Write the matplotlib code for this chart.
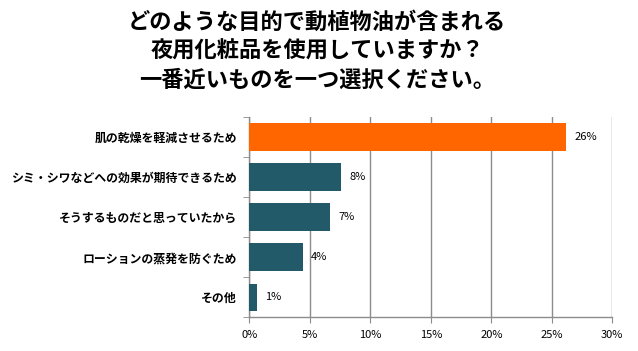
import matplotlib
matplotlib.use("Agg")
import matplotlib.pyplot as plt
import numpy as np

plt.rcParams['font.family'] = ['Noto Sans CJK JP', 'DejaVu Sans']

TITULO = ["どのような目的で動植物油が含まれる",
          "夜用化粧品を使用していますか？",
          "一番近いものを一つ選択ください。"]
CATEGORIAS = ["肌の乾燥を軽減させるため",
              "シミ・シワなどへの効果が期待できるため",
              "そうするものだと思っていたから",
              "ローションの蒸発を防ぐため",
              "その他"]
VALORES = [26.2, 7.6, 6.7, 4.4, 0.65]
ETIQUETAS = ["26%", "8%", "7%", "4%", "1%"]
XTICKS = [0, 5, 10, 15, 20, 25, 30]
XTICKLABELS = ["0%", "5%", "10%", "15%", "20%", "25%", "30%"]

COLORES = ["#FF6600"] + ["#235A69"] * 4
GRIS = "#8C8C8C"

fig = plt.figure(figsize=(6.38, 3.51), dpi=100)
fig.patch.set_facecolor("white")
ax = fig.add_axes([0.3908, 0.096, 0.5689, 0.5707])

y = np.arange(len(CATEGORIAS))
barras = ax.barh(y, VALORES, height=0.685, color=COLORES, zorder=3)

for barra, v, et in zip(barras, VALORES, ETIQUETAS):
    ax.annotate(et, (v, barra.get_y() + barra.get_height() / 2),
                xytext=(6, 0), textcoords="offset points",
                ha="left", va="center", fontsize=8, color="black")

ax.set_xlim(0, 30)
ax.set_ylim(len(CATEGORIAS) - 0.5, -0.5)
ax.set_xticks(XTICKS)
ax.set_xticklabels(XTICKLABELS, fontsize=8)
ax.set_yticks(y)
ax.set_yticklabels(CATEGORIAS, fontsize=8.6, fontweight="bold")
ax.set_yticks(np.arange(len(CATEGORIAS) + 1) - 0.5, minor=True)
ax.tick_params(axis="y", which="major", length=0, pad=9)
ax.tick_params(axis="y", which="minor", length=4, color=GRIS)
ax.tick_params(axis="x", length=4, color=GRIS, pad=5)

ax.xaxis.grid(True, color=GRIS, linewidth=1, zorder=0)
ax.set_axisbelow(True)
for lado in ["top", "right"]:
    ax.spines[lado].set_visible(False)
for lado in ["left", "bottom"]:
    ax.spines[lado].set_color(GRIS)
    ax.spines[lado].set_linewidth(1)

for i, linea in enumerate(TITULO):
    fig.text(0.497, 1 - (22 + 29 * i) / 351, linea, ha="center", va="center",
             fontsize=16, fontweight="bold")

fig.savefig("out.png", dpi=100, facecolor="white")
